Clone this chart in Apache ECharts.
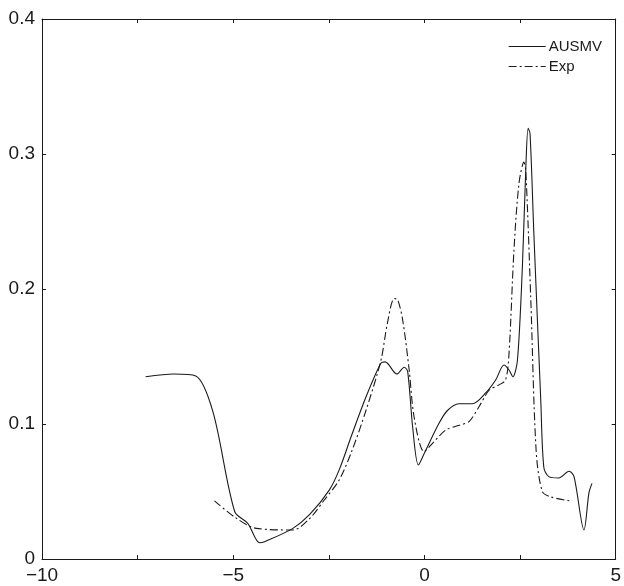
<!DOCTYPE html>
<html>
<head>
<meta charset="utf-8">
<script src="https://cdn.jsdelivr.net/npm/echarts@6/dist/echarts.min.js"></script>
<style>
  html, body { margin: 0; padding: 0; background: #fff; }
  #chart { width: 624px; height: 586px; }
</style>
</head>
<body>
<div id="chart"></div>
<script>
// values
const ausmvX = [-7.29, -6.55, -5.98, -5.53, -4.96, -4.62, -4.31, -4.18, -3.44, -3.0, -2.49, -2.23, -1.9, -1.53, -1.14, -1.03, -0.72, -0.53, -0.44, -0.31, -0.16, -0.01, 0.38, 0.6, 0.90, 1.25, 1.60, 1.86, 2.08, 2.21, 2.31, 2.43, 2.56, 2.65, 2.71, 2.76, 2.86, 3.04, 3.12, 3.25, 3.51, 3.78, 3.91, 4.17, 4.30, 4.38];
const ausmvY = [0.135, 0.137, 0.1356, 0.109, 0.035, 0.0264, 0.012, 0.0128, 0.0227, 0.033, 0.051, 0.066, 0.092, 0.120, 0.145, 0.146, 0.137, 0.142, 0.139, 0.098, 0.0696, 0.078, 0.1005, 0.110, 0.115, 0.115, 0.123, 0.1326, 0.1437, 0.140, 0.135, 0.147, 0.2165, 0.290, 0.319, 0.315, 0.241, 0.118, 0.068, 0.061, 0.060, 0.065, 0.061, 0.0215, 0.049, 0.056];

const expX = [-5.49, -4.96, -4.40, -3.44, -3.0, -2.62, -2.23, -1.9, -1.53, -1.14, -0.97, -0.79, -0.70, -0.57, -0.40, -0.27, -0.01, 0.21, 0.56, 0.91, 1.17, 1.43, 1.69, 1.95, 2.12, 2.21, 2.34, 2.47, 2.60, 2.65, 2.78, 2.92, 3.08, 3.30, 3.82];
const expY = [0.043, 0.031, 0.0227, 0.0215, 0.030, 0.0437, 0.0585, 0.080, 0.110, 0.147, 0.1746, 0.193, 0.192, 0.177, 0.140, 0.105, 0.0795, 0.0857, 0.0956, 0.099, 0.102, 0.113, 0.125, 0.129, 0.1326, 0.152, 0.229, 0.278, 0.294, 0.287, 0.192, 0.080, 0.050, 0.046, 0.043];

const xTicks = [-10, -5, 0, 5];
const yTicks = [0, 0.1, 0.2, 0.3, 0.4];

function pairs(xs, ys) {
  return xs.map((x, i) => [x, ys[i]]);
}

const font = 'Liberation Sans, Arial, sans-serif';
const ink = '#1a1a1a';

const chart = echarts.init(document.getElementById('chart'));

const frameAxis = {
  axisLine: { show: true, onZero: false, lineStyle: { color: ink, width: 1 } },
  axisTick: { show: true, inside: true, length: 4, lineStyle: { color: ink } },
  splitLine: { show: false }
};

chart.setOption({
  backgroundColor: '#fff',
  animation: false,
  grid: { left: 42, right: 7, top: 19, bottom: 27 },
  legend: {
    orient: 'vertical',
    right: 17,
    top: 34,
    itemWidth: 37,
    itemHeight: 14,
    itemGap: 5,
    itemStyle: { opacity: 0 },
    lineStyle: { width: 1 },
    textStyle: { fontFamily: font, fontSize: 15, color: ink, padding: [0, 0, 0, -2] },
    data: ['AUSMV', 'Exp']
  },
  xAxis: [
    Object.assign({
      type: 'value', min: -10, max: 5, interval: 2.5, position: 'bottom',
      axisLabel: {
        fontFamily: font, fontSize: 19, color: ink, margin: 7,
        formatter: v => xTicks.includes(v) ? (v < 0 ? '\u2212' + Math.abs(v) : String(v)) : ''
      }
    }, frameAxis),
    Object.assign({
      type: 'value', min: -10, max: 5, interval: 2.5, position: 'top',
      axisLabel: { show: false }
    }, frameAxis)
  ],
  yAxis: [
    Object.assign({
      type: 'value', min: 0, max: 0.4, interval: 0.1, position: 'left',
      axisLabel: {
        fontFamily: font, fontSize: 19, color: ink, margin: 7,
        formatter: v => {
          const t = yTicks.find(k => Math.abs(k - v) < 1e-9);
          return t === undefined ? '' : (t === 0 ? '0' : t.toFixed(1));
        }
      }
    }, frameAxis),
    Object.assign({
      type: 'value', min: 0, max: 0.4, interval: 0.1, position: 'right',
      axisLabel: { show: false }
    }, frameAxis)
  ],
  series: [
    {
      name: 'AUSMV',
      type: 'line',
      data: pairs(ausmvX, ausmvY),
      showSymbol: false,
      symbol: 'none',
      smooth: 0.3,
      lineStyle: { color: ink, width: 1.1, type: 'solid' },
      itemStyle: { color: ink }
    },
    {
      name: 'Exp',
      type: 'line',
      data: pairs(expX, expY),
      showSymbol: false,
      symbol: 'none',
      smooth: 0.3,
      lineStyle: { color: ink, width: 1.1, type: [8, 3, 2, 3] },
      itemStyle: { color: ink }
    }
  ]
});
</script>
</body>
</html>
